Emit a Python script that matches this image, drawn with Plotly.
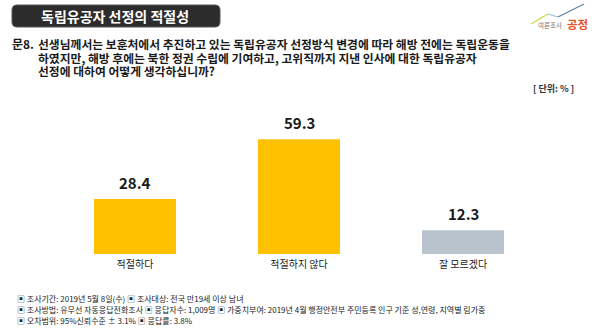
import plotly.graph_objects as go

categories = ["적절하다", "적절하지 않다", "잘 모르겠다"]
values = [28.4, 59.3, 12.3]
bar_colors = ["#FFC000", "#FFC000", "#B9C3CD"]

title_text = "독립유공자 선정의 적절성"
question_lines = [
    "선생님께서는 보훈처에서 추진하고 있는 독립유공자 선정방식 변경에 따라 해방 전에는 독립운동을",
    "하였지만, 해방 후에는 북한 정권 수립에 기여하고, 고위직까지 지낸 인사에 대한 독립유공자",
    "선정에 대하여 어떻게 생각하십니까?",
]
question_no = "문8."
unit_text = "[ 단위: % ]"
footer_lines = [
    "▣ 조사기간: 2019년 5월 8일(수) ▣ 조사대상: 전국 만19세 이상 남녀",
    "▣ 조사방법: 유무선 자동응답전화조사 ▣ 응답자수: 1,009명 ▣ 가중치부여: 2019년 4월 행정안전부 주민등록 인구 기준 성,연령, 지역별 림가중",
    "▣ 오차범위: 95%신뢰수준 ± 3.1% ▣ 응답률: 3.8%",
]

W, H = 599, 333
L, R, T, B = 53, 54, 134, 79
PW, PH = W - L - R, H - T - B
FONT = "Noto Sans CJK KR, Noto Sans, sans-serif"


def px(x):
    return (x - L) / PW


def py(y):
    return (H - B - y) / PH


fig = go.Figure()
fig.add_trace(go.Bar(
    x=categories, y=values, marker=dict(color=bar_colors, line=dict(width=0)),
    width=0.5, hoverinfo="skip",
))

annotations = []
for c, v in zip(categories, values):
    annotations.append(dict(
        x=c, y=v, xref="x", yref="y", text=f"<b>{v:.1f}</b>", showarrow=False,
        yanchor="bottom", yshift=4, font=dict(family=FONT, size=15, color="#1a1a1a"),
    ))

# title
annotations.append(dict(
    x=px(115), y=py(16), xref="paper", yref="paper", text=f"<b>{title_text}</b>",
    showarrow=False, xanchor="center", yanchor="middle",
    font=dict(family=FONT, size=14, color="#ffffff"),
))
# logo text
annotations.append(dict(
    x=px(564), y=py(25), xref="paper", yref="paper", text="여론조사",
    showarrow=False, xanchor="right", yanchor="middle",
    font=dict(family=FONT, size=6.5, color="#777777"),
))
annotations.append(dict(
    x=px(565), y=py(24), xref="paper", yref="paper", text="<b>공정</b>",
    showarrow=False, xanchor="left", yanchor="middle",
    font=dict(family=FONT, size=11.5, color="#E8532B"),
))
# question
annotations.append(dict(
    x=px(10), y=py(43.5), xref="paper", yref="paper", text=f"<b>{question_no}</b>",
    showarrow=False, xanchor="left", yanchor="middle",
    font=dict(family=FONT, size=12, color="#1a1a1a"),
))
for i, line in enumerate(question_lines):
    annotations.append(dict(
        x=px(36), y=py(43.5 + 13.5 * i), xref="paper", yref="paper", text=f"<b>{line}</b>",
        showarrow=False, xanchor="left", yanchor="middle",
        font=dict(family=FONT, size=11.8, color="#1a1a1a"),
    ))
annotations.append(dict(
    x=px(576), y=py(88), xref="paper", yref="paper", text=f"<b>{unit_text}</b>",
    showarrow=False, xanchor="right", yanchor="middle",
    font=dict(family=FONT, size=9, color="#333333"),
))
for i, line in enumerate(footer_lines):
    annotations.append(dict(
        x=px(15), y=py(298 + 11.3 * i), xref="paper", yref="paper", text=line,
        showarrow=False, xanchor="left", yanchor="middle",
        font=dict(family=FONT, size=8, color="#222222"),
    ))


def rounded_rect(x0, y0, x1, y1, r):
    X0, X1 = px(x0), px(x1)
    Y0, Y1 = py(y0), py(y1)
    rx, ry = r / PW, r / PH
    return (f"M {X0+rx},{Y0} L {X1-rx},{Y0} Q {X1},{Y0} {X1},{Y0-ry} "
            f"L {X1},{Y1+ry} Q {X1},{Y1} {X1-rx},{Y1} L {X0+rx},{Y1} "
            f"Q {X0},{Y1} {X0},{Y1+ry} L {X0},{Y0-ry} Q {X0},{Y0} {X0+rx},{Y0} Z")


shapes = [
    dict(type="path", xref="paper", yref="paper", path=rounded_rect(12, 5, 220, 27, 5),
         fillcolor="#2c2c2c", line=dict(color="#555555", width=1), layer="below"),
    dict(type="line", xref="paper", yref="paper", x0=px(531), y0=py(24), x1=px(548), y1=py(14),
         line=dict(color="#C8D84A", width=1.2)),
    dict(type="line", xref="paper", yref="paper", x0=px(548), y0=py(14), x1=px(558), y1=py(17),
         line=dict(color="#9EC3D8", width=1.2)),
    dict(type="line", xref="paper", yref="paper", x0=px(558), y0=py(17), x1=px(584), y1=py(4),
         line=dict(color="#5E7F9C", width=1.2)),
]

fig.update_layout(
    width=W, height=H, margin=dict(l=L, r=R, t=T, b=B, pad=0),
    paper_bgcolor="white", plot_bgcolor="white", showlegend=False,
    annotations=annotations, shapes=shapes,
    xaxis=dict(showgrid=False, zeroline=False, showline=False, ticks="",
               tickfont=dict(family=FONT, size=10, color="#222222"),
               ticklabelstandoff=3,
               range=[-0.5, 2.5], fixedrange=True),
    yaxis=dict(visible=False, range=[0, 62], fixedrange=True),
)

fig.write_html("out.html", config={"displayModeBar": False})
